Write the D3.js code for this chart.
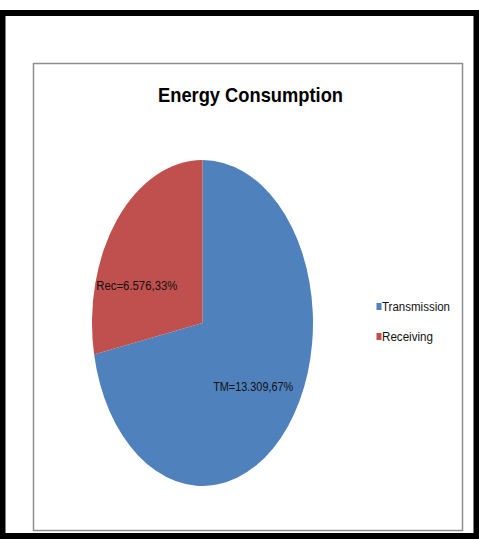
<!DOCTYPE html>
<html>
<head>
<meta charset="utf-8">
<script src="https://cdn.jsdelivr.net/npm/d3@7"></script>
<style>
  body { margin: 0; background: #fff; }
  text { font-family: "Liberation Sans Narrow", "Liberation Sans", "DejaVu Sans Condensed", sans-serif; fill: #111; }
</style>
</head>
<body>
<div class="pie-chart"></div>
<script>
const categories = ["Transmission", "Receiving"];
const sliceLabels = ["TM=13.309,67%", "Rec=6.576,33%"];
// slice shares as drawn in the picture (blue clockwise from 12 o'clock)
const sliceShares = [71.9, 28.1];
const colors = ["#4F81BD", "#C0504D"];

const width = 479;
const height = 539;

const svg = d3
  .select(".pie-chart")
  .append("svg")
  .attr("width", width)
  .attr("height", height);

// black outer frame
svg
  .append("rect")
  .attr("x", 2.5)
  .attr("y", 13)
  .attr("width", width - 5)
  .attr("height", height - 16)
  .attr("fill", "#fff")
  .attr("stroke", "#000")
  .attr("stroke-width", 6);

// chart area border
svg
  .append("rect")
  .attr("x", 33.5)
  .attr("y", 63.5)
  .attr("width", 429)
  .attr("height", 467)
  .attr("fill", "#fff")
  .attr("stroke", "#8f8f8f")
  .attr("stroke-width", 1.5);

svg
  .append("text")
  .attr("x", 250.5)
  .attr("y", 102)
  .attr("text-anchor", "middle")
  .attr("textLength", 185)
  .attr("lengthAdjust", "spacingAndGlyphs")
  .style("font-size", "21px")
  .style("font-weight", "bold")
  .style("fill", "#000")
  .text("Energy Consumption");

const cx = 202.5;
const cy = 323;
const rx = 110.5;
const ry = 163;

const pie = d3.pie().sort(null).value((d) => d);
const arcs = pie(sliceShares);
const arc = d3.arc().innerRadius(0).outerRadius(1);

const pieG = svg
  .append("g")
  .attr("transform", "translate(" + cx + "," + cy + ")");

pieG
  .selectAll(".slice")
  .data(arcs)
  .enter()
  .append("path")
  .attr("class", "slice")
  .attr("d", arc)
  .attr("transform", "scale(" + rx + "," + ry + ")")
  .attr("fill", (d, i) => colors[i]);

// label nudges from the arc centroid
const labelNudge = [
  [8, 16],
  [-23, 19],
];
const labelWidth = [80, 81];

pieG
  .selectAll(".lbl")
  .data(arcs)
  .enter()
  .append("text")
  .attr("class", "lbl")
  .attr("x", (d, i) => arc.centroid(d)[0] * rx + labelNudge[i][0])
  .attr("y", (d, i) => arc.centroid(d)[1] * ry + labelNudge[i][1])
  .attr("text-anchor", "middle")
  .attr("textLength", (d, i) => labelWidth[i])
  .attr("lengthAdjust", "spacingAndGlyphs")
  .style("font-size", "12px")
  .text((d, i) => sliceLabels[i]);

// legend
const legendY = d3.scalePoint().domain(categories).range([311, 341]);
const legendWidth = [68, 51];

const legend = svg
  .selectAll(".legend")
  .data(categories)
  .enter()
  .append("g")
  .attr("class", "legend");

legend
  .append("rect")
  .attr("x", 376.5)
  .attr("y", (d) => legendY(d) - 8)
  .attr("width", 5)
  .attr("height", 7)
  .attr("fill", (d, i) => colors[i]);

legend
  .append("text")
  .attr("x", 382)
  .attr("y", (d) => legendY(d))
  .attr("textLength", (d, i) => legendWidth[i])
  .attr("lengthAdjust", "spacingAndGlyphs")
  .style("font-size", "12px")
  .text((d) => d);
</script>
</body>
</html>
